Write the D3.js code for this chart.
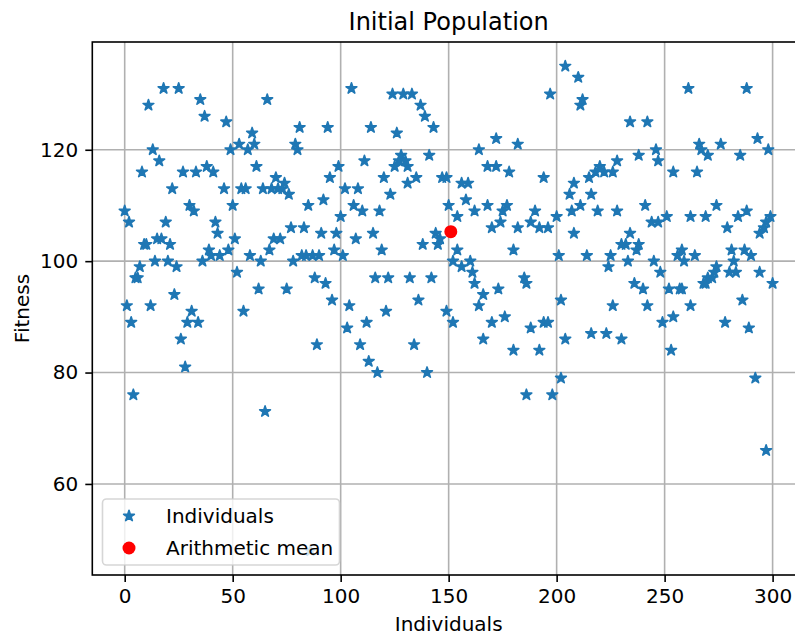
<!DOCTYPE html>
<html>
<head>
<meta charset="utf-8">
<style>
  body { margin: 0; background: #fff; }
  svg { display: block; font-family: "DejaVu Sans", sans-serif; }
</style>
</head>
<body>
<svg width="795" height="635"></svg>
<script src="https://cdn.jsdelivr.net/npm/d3@7"></script>
<script>
// values (index, fitness)
var individuals = [
  0, 1, 2, 3, 4, 5, 6, 7, 8, 9, 10, 11, 12, 13, 14, 15, 16, 17, 18, 19,
  20, 21, 22, 23, 24, 25, 26, 27, 28, 29, 30, 31, 32, 33, 34, 35, 36, 37, 38, 39,
  40, 41, 42, 43, 44, 46, 47, 48, 49, 50, 51, 52, 53, 54, 55, 56, 57, 58, 59,
  60, 61, 62, 63, 64, 65, 66, 67, 68, 69, 70, 71, 72, 73, 74, 75, 76, 77, 78, 79,
  80, 81, 82, 83, 84, 85, 86, 87, 88, 89, 90, 91, 92, 93, 94, 95, 96, 97, 98, 99,
  100, 101, 102, 103, 104, 105, 106, 107, 108, 109, 110, 111, 112, 113, 114, 115, 116, 117, 118, 119,
  120, 121, 122, 123, 124, 125, 126, 127, 128, 129, 130, 131, 131, 132, 133, 134, 135, 136, 137, 138, 139,
  140, 141, 142, 143, 144, 145, 146, 147, 149, 149, 150, 152, 152, 154, 154, 156, 156, 158, 159,
  160, 161, 162, 162, 164, 164, 166, 166, 168, 168, 170, 170, 172, 172, 173, 174, 175, 176, 177, 178,
  180, 180, 182, 182, 185, 186, 186, 188, 188, 190, 192, 192, 194, 194, 196, 196, 197, 198,
  200, 201, 202, 202, 204, 204, 206, 207, 208, 208, 210, 211, 211, 212, 214, 215, 216, 216, 218, 219,
  220, 222, 223, 224, 225, 226, 226, 228, 228, 230, 230, 232, 233, 234, 234, 236, 237, 238, 238,
  240, 241, 242, 242, 244, 245, 246, 247, 247, 248, 249, 251, 252, 253, 254, 254, 256, 257, 258, 258, 259,
  261, 262, 262, 264, 265, 266, 267, 268, 269, 269, 270, 270, 272, 273, 274, 274, 276, 278, 279,
  280, 281, 282, 283, 284, 285, 286, 287, 288, 288, 289, 290, 292, 293, 294, 294, 296, 297, 297, 298, 299, 300
];
var fitness = [
  109, 92, 107, 89, 76, 97, 97, 99, 116, 103, 103, 128, 92, 120, 100, 104, 118, 104, 131, 107,
  100, 103, 113, 94, 99, 131, 86, 116, 81, 89, 110, 91, 109, 116, 89, 129, 100, 126, 117, 102,
  101, 116, 107, 105, 101, 113, 125, 102, 120, 110, 104, 98, 121, 113, 91, 113, 120, 101, 123,
  121, 117, 95, 100, 113, 73, 129, 102, 113, 104, 115, 113, 104, 113, 114, 95, 112, 106, 100, 121,
  120, 124, 101, 106, 101, 110, 48, 101, 97, 85, 101, 105, 111, 96, 124, 115, 93, 102, 105, 117,
  108, 101, 113, 88, 92, 131, 110, 104, 113, 85, 109, 118, 89, 82, 124, 105, 97, 80, 109, 102,
  115, 91, 97, 112, 130, 117, 123, 118, 119, 130, 118, 117, 114, 97, 130, 85, 115, 93, 128, 103, 126,
  80, 119, 97, 124, 105, 103, 104, 115, 115, 91, 110, 89, 100, 108, 102, 99, 114, 111, 114,
  100, 98, 96, 109, 120, 92, 94, 86, 117, 110, 106, 89, 122, 117, 95, 107, 109, 90, 110, 116,
  102, 84, 121, 106, 97, 96, 76, 107, 88, 109, 106, 84, 115, 89, 89, 106, 130, 76,
  108, 101, 93, 79, 135, 86, 112, 109, 114, 105, 133, 110, 128, 129, 101, 115, 112, 87, 116, 109,
  117, 116, 87, 99, 101, 116, 92, 118, 109, 103, 86, 103, 100, 125, 105, 96, 102, 103, 119,
  95, 110, 125, 92, 107, 100, 120, 118, 107, 98, 89, 108, 95, 84, 116, 90, 101, 95, 102, 95, 100,
  131, 108, 92, 101, 116, 121, 120, 96, 96, 108, 119, 97, 97, 98, 99, 110, 121, 89, 106,
  98, 102, 100, 98, 108, 119, 93, 102, 131, 109, 88, 101, 79, 122, 98, 105, 106, 107, 66, 120, 108, 96
];
var meanPoint = [151, 105.3];
var xTicks = [0, 50, 100, 150, 200, 250, 300];
var yTicks = [60, 80, 100, 120];

var svg = d3.select("svg");
var plotLeft = 92.3, plotRight = 805, plotTop = 42, plotBottom = 575;
var x = d3.scaleLinear().domain([-15, 315]).range([plotLeft, plotRight]);
var y = d3.scaleLinear().domain([43.65, 139.35]).range([plotBottom, plotTop]);
var blue = "#1f77b4";

// GRID
var grid = svg.append("g").attr("stroke", "#b0b0b0").attr("stroke-width", 1.6);
grid.selectAll(".gx").data(xTicks).enter().append("line")
  .attr("x1", d => x(d)).attr("x2", d => x(d)).attr("y1", plotTop).attr("y2", plotBottom);
grid.selectAll(".gy").data(yTicks).enter().append("line")
  .attr("x1", plotLeft).attr("x2", plotRight).attr("y1", d => y(d)).attr("y2", d => y(d));

// AXES
var xAxis = svg.append("g").attr("transform", "translate(0," + plotBottom + ")")
  .call(d3.axisBottom(x).tickValues(xTicks).tickSize(7).tickPadding(7).tickSizeOuter(0));
var yAxis = svg.append("g").attr("transform", "translate(" + plotLeft + ",0)")
  .call(d3.axisLeft(y).tickValues(yTicks).tickSize(7).tickPadding(7).tickSizeOuter(0));
[xAxis, yAxis].forEach(function (a) {
  a.select(".domain").remove();
  a.selectAll(".tick line").attr("stroke", "#000").attr("stroke-width", 1.6);
  a.selectAll(".tick text").attr("font-family", "DejaVu Sans").attr("font-size", 20).attr("fill", "#000");
});

// POINTS
var star = d3.symbol(d3.symbolStar, 36)();
svg.append("g").selectAll("path").data(fitness).enter().append("path")
  .attr("d", star)
  .attr("transform", (d, i) => "translate(" + x(individuals[i]) + "," + y(d) + ")")
  .attr("fill", blue).attr("stroke", blue).attr("stroke-width", 1.6).attr("stroke-linejoin", "round");

svg.append("circle")
  .attr("cx", x(meanPoint[0])).attr("cy", y(meanPoint[1])).attr("r", 6.5)
  .attr("fill", "red");

// FRAME
svg.append("rect").attr("x", plotLeft).attr("y", plotTop)
  .attr("width", plotRight - plotLeft).attr("height", plotBottom - plotTop)
  .attr("fill", "none").attr("stroke", "#000").attr("stroke-width", 1.6);

// TEXT
svg.append("text").attr("x", (plotLeft + plotRight) / 2).attr("y", 30)
  .attr("text-anchor", "middle").attr("font-size", 24).text("Initial Population");
svg.append("text").attr("x", (plotLeft + plotRight) / 2).attr("y", 631)
  .attr("text-anchor", "middle").attr("font-size", 20).text("Individuals");
svg.append("text").attr("transform", "translate(29," + (plotTop + plotBottom) / 2 + ") rotate(-90)")
  .attr("text-anchor", "middle").attr("font-size", 20).text("Fitness");

// LEGEND
var lg = svg.append("g");
lg.append("rect").attr("x", 102.5).attr("y", 499).attr("width", 237).attr("height", 66).attr("rx", 4)
  .attr("fill", "#fff").attr("fill-opacity", 0.8)
  .attr("stroke", "#ccc").attr("stroke-opacity", 0.8).attr("stroke-width", 1.6);
lg.append("path").attr("d", star).attr("transform", "translate(129,516)")
  .attr("fill", blue).attr("stroke", blue).attr("stroke-width", 1.6).attr("stroke-linejoin", "round");
lg.append("circle").attr("cx", 129).attr("cy", 548).attr("r", 6.5).attr("fill", "red");
lg.append("text").attr("x", 166).attr("y", 523).attr("font-size", 20).text("Individuals");
lg.append("text").attr("x", 166).attr("y", 555).attr("font-size", 20).text("Arithmetic mean");
</script>
</body>
</html>
